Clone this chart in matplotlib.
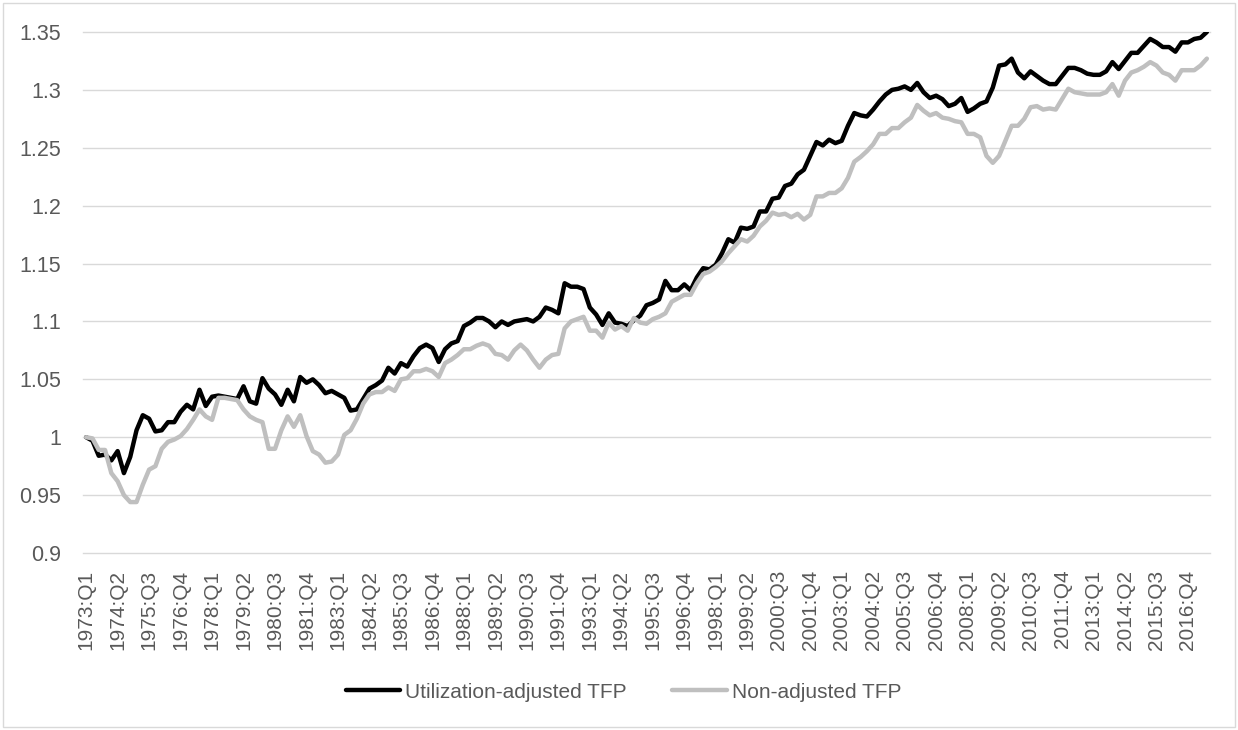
import matplotlib.pyplot as plt
import numpy as np
from matplotlib.patches import Rectangle

plt.rcParams['font.family'] = ['Liberation Sans', 'DejaVu Sans']

# quarterly categories, 1973:Q1 .. 2017:Q3
quarters = [f'{y}:Q{q}' for y in range(1973, 2018) for q in range(1, 5)][:179]

# utilization-adjusted TFP (index, 1973:Q1 = 1)
util_tfp = [
    1.000, 0.997, 0.984, 0.985, 0.980, 0.988, 0.969, 0.983, 1.006, 1.019,
    1.016, 1.005, 1.006, 1.013, 1.013, 1.022, 1.028, 1.024, 1.041, 1.027,
    1.035, 1.036, 1.035, 1.034, 1.033, 1.044, 1.031, 1.029, 1.051, 1.042,
    1.037, 1.028, 1.041, 1.031, 1.052, 1.047, 1.050, 1.045, 1.038, 1.040,
    1.037, 1.034, 1.023, 1.024, 1.033, 1.042, 1.045, 1.049, 1.060, 1.055,
    1.064, 1.061, 1.070, 1.077, 1.080, 1.077, 1.065, 1.076, 1.081, 1.083,
    1.096, 1.099, 1.103, 1.103, 1.100, 1.095, 1.100, 1.097, 1.100, 1.101,
    1.102, 1.100, 1.104, 1.112, 1.110, 1.107, 1.133, 1.130, 1.130, 1.128,
    1.112, 1.106, 1.097, 1.107, 1.099, 1.098, 1.096, 1.101, 1.105, 1.114,
    1.116, 1.119, 1.135, 1.127, 1.127, 1.132, 1.127, 1.138, 1.146, 1.145,
    1.149, 1.159, 1.171, 1.168, 1.181, 1.180, 1.182, 1.195, 1.195, 1.206,
    1.207, 1.217, 1.219, 1.227, 1.231, 1.243, 1.255, 1.252, 1.257, 1.254,
    1.256, 1.269, 1.280, 1.278, 1.277, 1.283, 1.290, 1.296, 1.300, 1.301,
    1.303, 1.300, 1.306, 1.298, 1.293, 1.295, 1.292, 1.286, 1.288, 1.293,
    1.281, 1.284, 1.288, 1.290, 1.302, 1.321, 1.322, 1.327, 1.315, 1.310,
    1.316, 1.312, 1.308, 1.305, 1.305, 1.312, 1.319, 1.319, 1.317, 1.314,
    1.313, 1.313, 1.316, 1.324, 1.318, 1.325, 1.332, 1.332, 1.338, 1.344,
    1.341, 1.337, 1.337, 1.333, 1.341, 1.341, 1.344, 1.345, 1.350,
]

# non-adjusted TFP
nonadj_tfp = [
    1.000, 0.999, 0.989, 0.989, 0.969, 0.962, 0.950, 0.944, 0.944, 0.959,
    0.972, 0.975, 0.990, 0.996, 0.998, 1.001, 1.007, 1.015, 1.024, 1.018,
    1.015, 1.034, 1.034, 1.033, 1.032, 1.024, 1.018, 1.015, 1.013, 0.990,
    0.990, 1.006, 1.018, 1.009, 1.019, 1.001, 0.988, 0.985, 0.978, 0.979,
    0.985, 1.002, 1.006, 1.016, 1.029, 1.037, 1.039, 1.039, 1.043, 1.040,
    1.050, 1.051, 1.057, 1.057, 1.059, 1.057, 1.052, 1.064, 1.067, 1.071,
    1.076, 1.076, 1.079, 1.081, 1.079, 1.072, 1.071, 1.067, 1.075, 1.080,
    1.075, 1.067, 1.060, 1.067, 1.071, 1.072, 1.094, 1.100, 1.102, 1.104,
    1.092, 1.092, 1.086, 1.099, 1.093, 1.096, 1.092, 1.103, 1.099, 1.098,
    1.102, 1.104, 1.107, 1.117, 1.120, 1.123, 1.123, 1.133, 1.141, 1.143,
    1.147, 1.152, 1.159, 1.165, 1.171, 1.169, 1.174, 1.182, 1.187, 1.194,
    1.192, 1.193, 1.190, 1.193, 1.188, 1.192, 1.208, 1.208, 1.211, 1.211,
    1.215, 1.224, 1.238, 1.242, 1.247, 1.253, 1.262, 1.262, 1.267, 1.267,
    1.272, 1.276, 1.287, 1.282, 1.278, 1.280, 1.276, 1.275, 1.273, 1.272,
    1.262, 1.262, 1.259, 1.243, 1.237, 1.243, 1.256, 1.269, 1.269, 1.275,
    1.285, 1.286, 1.283, 1.284, 1.283, 1.292, 1.301, 1.298, 1.297, 1.296,
    1.296, 1.296, 1.298, 1.305, 1.295, 1.308, 1.315, 1.317, 1.320, 1.324,
    1.321, 1.315, 1.313, 1.308, 1.317, 1.317, 1.317, 1.321, 1.327,
]

y_ticks = [0.9, 0.95, 1.0, 1.05, 1.1, 1.15, 1.2, 1.25, 1.3, 1.35]

W, H = 1238, 730
fig = plt.figure(figsize=(W / 100, H / 100), dpi=100)
ax = fig.add_axes([83 / W, 1 - 553 / H, (1210 - 83) / W, (553 - 32) / H])

x = np.arange(len(quarters))
ax.plot(x, util_tfp, color='black', lw=3.2, solid_joinstyle='round',
        solid_capstyle='round', label='Utilization-adjusted TFP')
ax.plot(x, nonadj_tfp, color='#BFBFBF', lw=3.2, solid_joinstyle='round',
        solid_capstyle='round', label='Non-adjusted TFP')

ax.set_xlim(-0.5, len(quarters) - 0.5)
ax.set_ylim(0.9, 1.35)

# horizontal gridlines, light grey like excel
for v in y_ticks:
    ax.axhline(v, color='#D9D9D9', lw=1.0, zorder=0, clip_on=False)

ax.set_yticks(y_ticks)
ax.set_yticklabels([f'{v:g}' for v in y_ticks])
ax.set_xticks(x[::5])
ax.set_xticklabels(quarters[::5], rotation=90)

for s in ax.spines.values():
    s.set_visible(False)
ax.tick_params(length=0, colors='#595959', labelsize=15)
ax.tick_params(axis='y', pad=16, labelsize=15.5)
ax.tick_params(axis='x', pad=12)

leg = fig.legend(loc='center', bbox_to_anchor=(623.5 / W, 1 - 692 / H), ncol=2,
                 frameon=False, fontsize=15, handlelength=2.6,
                 handletextpad=0.25, columnspacing=2.2)
for t in leg.get_texts():
    t.set_color('#595959')

# chart border
fig.patches.append(Rectangle((3 / W, 3 / H), (W - 6) / W, (H - 6) / H,
                             transform=fig.transFigure, fill=False,
                             edgecolor='#D9D9D9', lw=1.0))

fig.savefig('out.png', dpi=100)
